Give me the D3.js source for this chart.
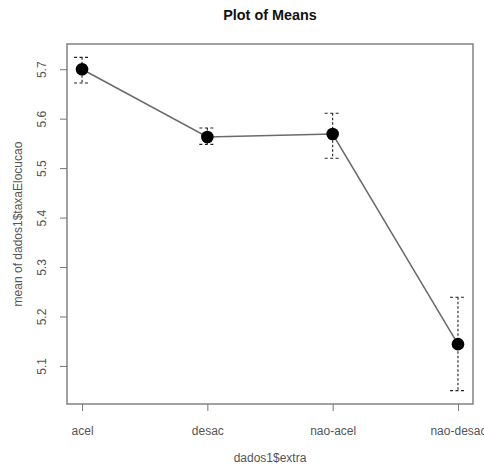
<!DOCTYPE html>
<html><head><meta charset="utf-8">
<script src="https://cdn.jsdelivr.net/npm/d3@7"></script>
<style>body{margin:0;background:#fff}svg{display:block}</style>
</head><body>
<script>
const categories = ["acel", "desac", "nao-acel", "nao-desac"];
const means = [5.700, 5.563, 5.569, 5.144];
const upper = [5.724, 5.581, 5.611, 5.239];
const lower = [5.672, 5.548, 5.520, 5.050];
const yTicks = [5.1, 5.2, 5.3, 5.4, 5.5, 5.6, 5.7];
const title = "Plot of Means";
const xTitle = "dados1$extra";
const yTitle = "mean of dados1$taxaElocucao";

const W = 484, H = 464;
const box = {l: 67, r: 473, t: 44, b: 404};
const svg = d3.select("body").append("svg").attr("width", W).attr("height", H);
const font = "Liberation Sans, Arial, sans-serif";

const idx = categories.map((c, i) => i + 1);
const x = d3.scaleLinear().domain([0.88, 4.12]).range([box.l, box.r]);
const y = d3.scaleLinear().domain([5.023, 5.751]).range([box.b, box.t]);

// box
svg.append("rect").attr("x", box.l).attr("y", box.t)
  .attr("width", box.r - box.l).attr("height", box.b - box.t)
  .attr("fill", "none").attr("stroke", "#8a8a8a").attr("stroke-width", 1.6);

// y axis
const yAxis = svg.append("g").attr("transform", `translate(${box.l},0)`)
  .call(d3.axisLeft(y).tickValues(yTicks).tickSize(7).tickFormat(d3.format(".1f")));
yAxis.select(".domain").remove();
yAxis.selectAll(".tick line").attr("stroke", "#777");
yAxis.selectAll(".tick text").remove();
yAxis.selectAll(".tick").append("text")
  .attr("transform", "translate(-21,0) rotate(-90)")
  .attr("text-anchor", "middle").attr("fill", "#555")
  .style("font-family", font).style("font-size", "12px")
  .text(d => d3.format(".1f")(d));

// x axis
const xAxis = svg.append("g").attr("transform", `translate(0,${box.b})`)
  .call(d3.axisBottom(x).tickValues(idx).tickSize(7).tickFormat(d => categories[d - 1]));
xAxis.select(".domain").remove();
xAxis.selectAll(".tick line").attr("stroke", "#777");
xAxis.selectAll(".tick text").attr("y", 0).attr("dy", "31px").attr("fill", "#555")
  .style("font-family", font).style("font-size", "12px");

// titles
svg.append("text").attr("x", (box.l + box.r) / 2).attr("y", 20)
  .attr("text-anchor", "middle").attr("fill", "#111")
  .style("font-family", font).style("font-size", "14.4px").style("font-weight", "bold")
  .text(title);
svg.append("text").attr("x", (box.l + box.r) / 2).attr("y", 462)
  .attr("text-anchor", "middle").attr("fill", "#555")
  .style("font-family", font).style("font-size", "12px").text(xTitle);
svg.append("text").attr("transform", `translate(22,${(box.t + box.b) / 2}) rotate(-90)`)
  .attr("text-anchor", "middle").attr("fill", "#555")
  .style("font-family", font).style("font-size", "12px").text(yTitle);

// line
svg.append("path").datum(means)
  .attr("d", d3.line().x((d, i) => x(idx[i])).y(d => y(d)))
  .attr("fill", "none").attr("stroke", "#6a6a6a").attr("stroke-width", 1.5);

// error bars
const eb = svg.append("g").selectAll("g").data(means).join("g");
eb.append("line").attr("x1", (d, i) => x(idx[i])).attr("x2", (d, i) => x(idx[i]))
  .attr("y1", (d, i) => y(upper[i])).attr("y2", (d, i) => y(lower[i]))
  .attr("stroke", "#222").attr("stroke-width", 1.1).attr("stroke-dasharray", "2.5,2");
["upper", "lower"].forEach(k => {
  const arr = k === "upper" ? upper : lower;
  eb.append("line").attr("x1", (d, i) => x(idx[i]) - 8).attr("x2", (d, i) => x(idx[i]) + 8)
    .attr("y1", (d, i) => y(arr[i])).attr("y2", (d, i) => y(arr[i]))
    .attr("stroke", "#222").attr("stroke-width", 1.1).attr("stroke-dasharray", "3,2.5");
});

// points
svg.append("g").selectAll("circle").data(means).join("circle")
  .attr("cx", (d, i) => x(idx[i])).attr("cy", d => y(d)).attr("r", 6.3)
  .attr("fill", "#000");
</script>
</body></html>
